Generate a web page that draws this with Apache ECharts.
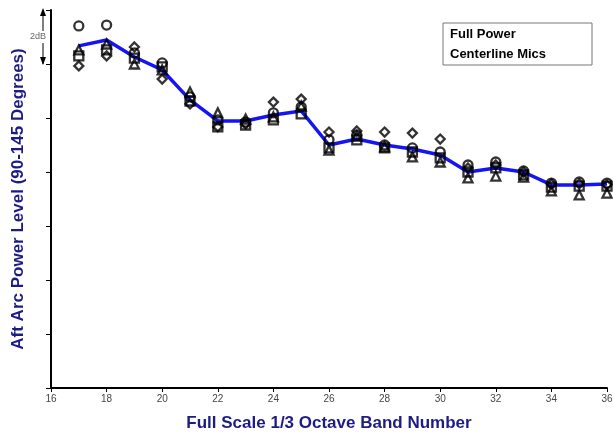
<!DOCTYPE html>
<html>
<head>
<meta charset="utf-8">
<script src="https://cdn.jsdelivr.net/npm/echarts@6/dist/echarts.min.js"></script>
<style>html,body{margin:0;padding:0;background:#fff}#c{width:613px;height:432px}</style>
</head>
<body>
<div id="c"></div>
<script>
const bands = [17,18,19,20,21,22,23,24,25,26,27,28,29,30,31,32,33,34,35,36];
const average = [12.67,12.89,12.26,11.78,10.67,9.89,9.89,10.11,10.26,9.0,9.22,9.0,8.85,8.63,8.0,8.15,8.0,7.52,7.52,7.56];
const micCircle = [13.41,13.44,12.41,12.04,10.78,9.93,9.85,10.19,10.41,9.19,9.37,9.0,8.89,8.74,8.26,8.37,8.04,7.59,7.63,7.59];
const micTriangle = [12.52,12.74,12.0,11.78,10.96,10.19,9.96,10.04,10.44,8.81,9.33,8.93,8.56,8.37,7.78,7.85,7.81,7.30,7.15,7.22];
const micSquare = [12.30,12.52,12.22,11.89,10.63,9.67,9.74,9.93,10.15,8.89,9.19,8.89,8.74,8.52,8.0,8.15,7.89,7.44,7.48,7.48];
const micDiamond = [11.93,12.30,12.63,11.44,10.52,9.67,9.78,10.59,10.70,9.48,9.52,9.48,9.44,9.22,8.15,8.26,8.0,7.56,7.56,7.52];
const xTicks = [16,18,20,22,24,26,28,30,32,34,36];

const pair = arr => bands.map((b,i)=>[b,arr[i]]);
const navy = '#1c1c84';
const font = 'Liberation Sans, Arial, sans-serif';
const markerSeries = (data, symbol) => ({
  type:'scatter', data: pair(data), symbol, symbolSize: 9, z: 5,
  itemStyle:{color:'rgba(0,0,0,0)', borderColor:'#000', borderWidth:2.3},
  silent:true
});

const chart = echarts.init(document.getElementById('c'), null, {renderer:'canvas'});
chart.setOption({
  animation:false,
  backgroundColor:'#fff',
  grid:{left:51, right:6, top:10, bottom:44, containLabel:false, outerBoundsMode:'none'},
  xAxis:{
    type:'value', min:16, max:36, interval:2,
    name:'Full Scale 1/3 Octave Band Number', nameLocation:'middle', nameGap:27,
    nameTextStyle:{color:navy, fontWeight:'bold', fontSize:17, fontFamily:font},
    axisLine:{lineStyle:{color:'#000', width:2}},
    axisTick:{show:true, length:4, lineStyle:{color:'#000', width:1}},
    axisLabel:{color:'#444', fontSize:10, fontFamily:font, margin:6,
      formatter: v => xTicks.includes(v) ? String(v) : ''},
    splitLine:{show:false}
  },
  yAxis:{
    type:'value', min:0, max:14, interval:2,
    name:'Aft Arc Power Level (90-145 Degrees)', nameLocation:'middle', nameGap:24,
    nameTextStyle:{color:navy, fontWeight:'bold', fontSize:17, fontFamily:font},
    axisLine:{show:true, lineStyle:{color:'#000', width:2}},
    axisTick:{show:true, length:5, lineStyle:{color:'#000', width:1}},
    axisLabel:{show:false},
    splitLine:{show:false}
  },
  series:[
    {type:'line', data: pair(average), showSymbol:false, symbol:'none', z:2,
      lineStyle:{color:'#1414f5', width:3.5}},
    markerSeries(micCircle,'circle'),
    markerSeries(micTriangle,'triangle'),
    markerSeries(micSquare,'rect'),
    markerSeries(micDiamond,'diamond')
  ]
});

const yTop = chart.convertToPixel({yAxisIndex:0}, 14);
const yBot = chart.convertToPixel({yAxisIndex:0}, 12);
const ax = 43;
chart.setOption({
  graphic:[
    {type:'line', shape:{x1:ax, y1:yTop, x2:ax, y2:yBot}, style:{stroke:'#000', lineWidth:1}},
    {type:'polygon', shape:{points:[[ax,yTop-2],[ax-3,yTop+6],[ax+3,yTop+6]]}, style:{fill:'#000'}},
    {type:'polygon', shape:{points:[[ax,yBot+1],[ax-3,yBot-7],[ax+3,yBot-7]]}, style:{fill:'#000'}},
    {type:'rect', shape:{x:30, y:(yTop+yBot)/2-6, width:16, height:12}, style:{fill:'#fff'}},
    {type:'text', x:38, y:(yTop+yBot)/2, style:{text:'2dB', fill:'#666', font:'9px '+font, align:'center', verticalAlign:'middle'}},
    {type:'rect', shape:{x:443, y:23, width:149, height:42}, style:{fill:'#fff', stroke:'#777', lineWidth:1}},
    {type:'text', x:450, y:34, style:{text:'Full Power', fill:'#000', font:'bold 13px '+font, verticalAlign:'middle'}},
    {type:'text', x:450, y:54, style:{text:'Centerline Mics', fill:'#000', font:'bold 13px '+font, verticalAlign:'middle'}}
  ]
});
</script>
</body>
</html>
